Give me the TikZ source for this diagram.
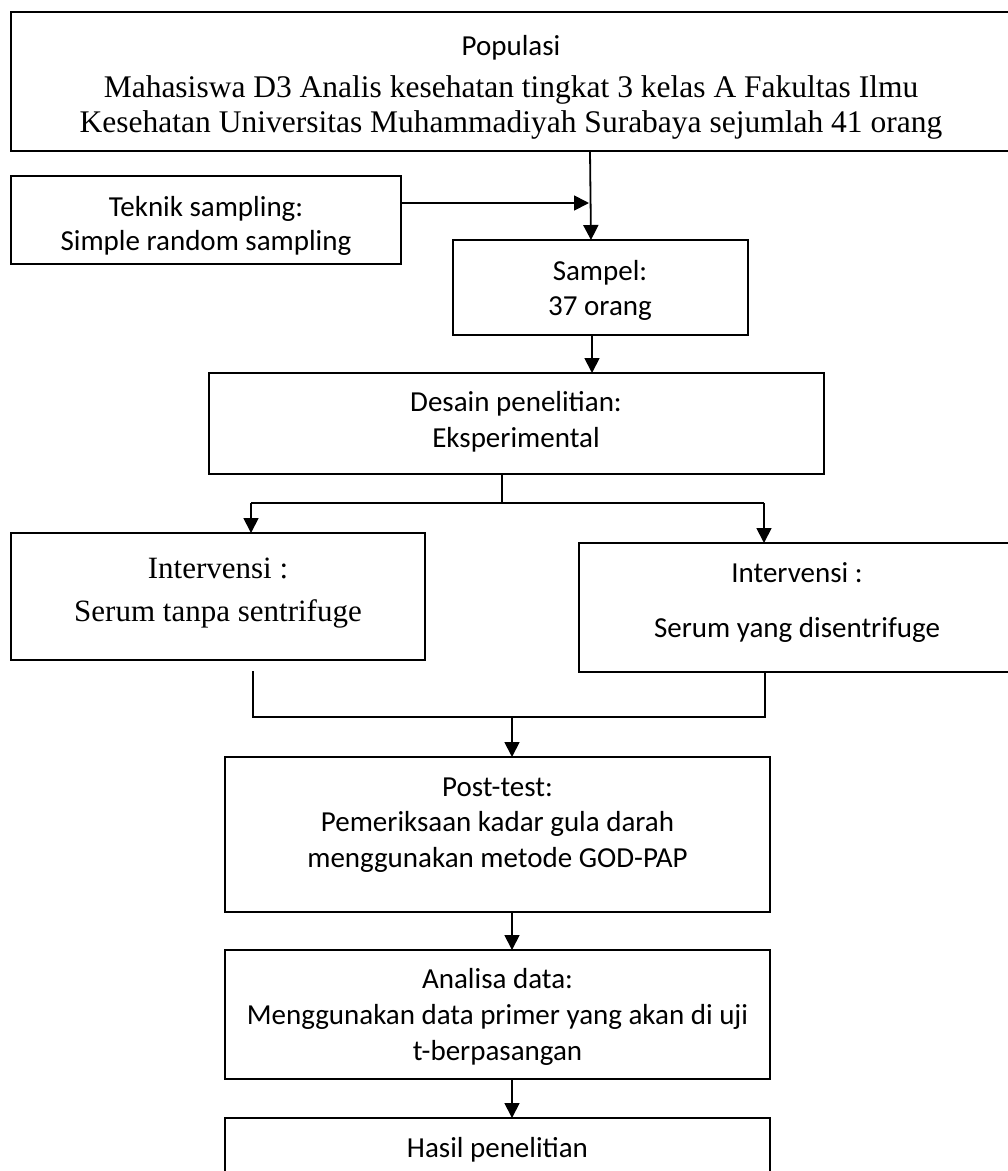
\documentclass[tikz,border=0pt]{standalone}
\usepackage{fontspec}
\setmainfont{Liberation Serif}
\newfontfamily\calfont{Carlito}
\usetikzlibrary{arrows.meta}
\tikzset{
  box/.style={draw, line width=2pt, rectangle, inner sep=0pt, outer sep=0pt},
  txt/.style={inner sep=0pt, align=center, anchor=base},
  arr/.style={line width=1.8pt, -{Triangle[length=15pt,width=15pt]}},
  thinline/.style={line width=1.3pt},
}
\begin{document}
\begin{tikzpicture}[x=1pt,y=-1pt]
\useasboundingbox (0,0) rectangle (1008,1171);
\fill[white] (0,0) rectangle (1008,1171);
\clip (0,0) rectangle (1008,1171);

% boxes
\node[box, minimum width=1001pt, minimum height=139pt] (pop) at (511.5,81.5) {};
\node[box, minimum width=390pt, minimum height=88pt] (tek) at (206,220) {};
\node[box, minimum width=295pt, minimum height=95pt] (samp) at (600.5,287.5) {};
\node[box, minimum width=615pt, minimum height=101pt] (des) at (516.5,423.5) {};
\node[box, minimum width=414pt, minimum height=127pt] (lint) at (218,596.5) {};
\node[box, minimum width=436pt, minimum height=129pt] (rint) at (797,607.5) {};
\node[box, minimum width=545pt, minimum height=155pt] (post) at (497.5,834.5) {};
\node[box, minimum width=545pt, minimum height=129pt] (ana) at (497.5,1014.5) {};
\node[box, minimum width=545pt, minimum height=82pt] (has) at (497.5,1159) {};

% texts (anchor = baseline of last line)
\node[txt, font=\fontsize{31.5}{35}\selectfont] (popt) at (511,132)
  {{\calfont\fontsize{29}{35}\selectfont Populasi}\\[7pt]
   Mahasiswa D3 Analis kesehatan tingkat 3 kelas A Fakultas Ilmu\\
   Kesehatan Universitas Muhammadiyah Surabaya sejumlah 41 orang};
\begin{scope}
\clip (11,176) rectangle (401,254);
\node[txt, font=\calfont\fontsize{29}{34}\selectfont] (tekt) at (206,250)
  {Teknik sampling:\\Simple random sampling};
\end{scope}
\node[txt, font=\calfont\fontsize{29}{35}\selectfont] (sampt) at (600,315)
  {Sampel:\\37 orang};
\node[txt, font=\calfont\fontsize{29}{36}\selectfont] (dest) at (516,447)
  {Desain penelitian:\\Eksperimental};
\node[txt, font=\fontsize{31}{43}\selectfont] (lintt) at (218,621)
  {Intervensi :\\Serum tanpa sentrifuge};
\node[txt, font=\calfont\fontsize{29}{55}\selectfont] (rintt) at (797,637)
  {Intervensi :\\Serum yang disentrifuge};
\node[txt, font=\calfont\fontsize{29}{35.5}\selectfont] (postt) at (497.5,867)
  {Post-test:\\Pemeriksaan kadar gula darah\\menggunakan metode GOD-PAP};
\node[txt, font=\calfont\fontsize{29}{36}\selectfont] (anat) at (497.5,1060)
  {Analisa data:\\Menggunakan data primer yang akan di uji\\t-berpasangan};
\node[txt, font=\calfont\fontsize{29}{35}\selectfont] (hast) at (497.5,1157)
  {Hasil penelitian};

% connectors
\coordinate (j1) at (589,203);
\draw[arr] (590,0 |- pop.south) -- (591,0 |- samp.north);
\draw[arr] (tek.east |- j1) -- (j1);
\draw[arr] (592,0 |- samp.south) -- (592,0 |- des.north);

\coordinate (sp) at (502,503);
\coordinate (bl) at (251,503);
\coordinate (br) at (764,503);
\draw[thinline] (502,0 |- des.south) -- (sp);
\draw[thinline] (bl) -- (br);
\draw[arr] (bl) -- (bl |- lint.north);
\draw[arr] (br) -- (br |- rint.north);

\coordinate (ml) at (253,671);
\coordinate (mL) at (253,717);
\coordinate (mR) at (765,717);
\coordinate (mm) at (512,717);
\draw[thinline] (ml) -- (mL) -- (mR) -- (mR |- rint.south);
\draw[arr] (mm) -- (mm |- post.north);
\draw[arr] (512,0 |- post.south) -- (512,0 |- ana.north);
\draw[arr] (512,0 |- ana.south) -- (512,0 |- has.north);
\end{tikzpicture}
\end{document}
